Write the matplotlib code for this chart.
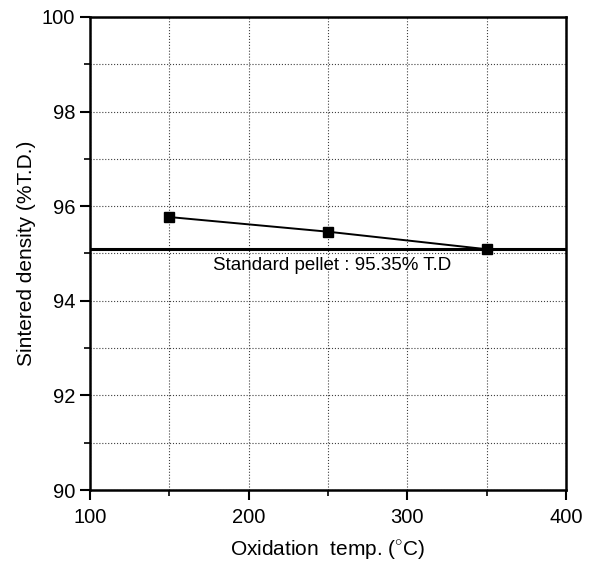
import numpy as np
import matplotlib.pyplot as plt
from matplotlib.ticker import MultipleLocator

plt.rcParams['font.family'] = ['Liberation Sans', 'DejaVu Sans']
plt.rcParams['mathtext.fontset'] = 'custom'
plt.rcParams['mathtext.rm'] = 'Liberation Sans'

# Data
temp = [150, 250, 350]
density = [95.77, 95.46, 95.09]
standard_level = 95.09
standard_label = "Standard pellet : 95.35% T.D"

fig = plt.figure(figsize=(5.95, 5.62), dpi=100)
ax = fig.add_axes([0.151, 0.128, 0.800, 0.842])

ax.axhline(standard_level, color="black", lw=2.2, zorder=3)
ax.plot(temp, density, color="black", lw=1.4, marker="s", ms=7, zorder=4)
ax.text(253, 94.74, standard_label, ha="center", va="center", fontsize=13.5)

ax.set_xlim(100, 400)
ax.set_ylim(90, 100)
ax.xaxis.set_major_locator(MultipleLocator(100))
ax.xaxis.set_minor_locator(MultipleLocator(50))
ax.yaxis.set_major_locator(MultipleLocator(2))
ax.yaxis.set_minor_locator(MultipleLocator(1))
ax.grid(which="both", linestyle=":", color="0.25", lw=0.8)

ax.tick_params(which="major", direction="out", length=7, width=1.5, labelsize=14.5)
ax.tick_params(axis="x", which="major", pad=6)
ax.tick_params(which="minor", direction="out", length=4, width=1.2)
for s in ax.spines.values():
    s.set_linewidth(1.8)

ax.set_xlabel(r"Oxidation  temp. ($^{\circ}$C)", fontsize=15, labelpad=8)
ax.set_ylabel("Sintered density (%T.D.)", fontsize=15, labelpad=4)

fig.savefig("out.png", dpi=100)
